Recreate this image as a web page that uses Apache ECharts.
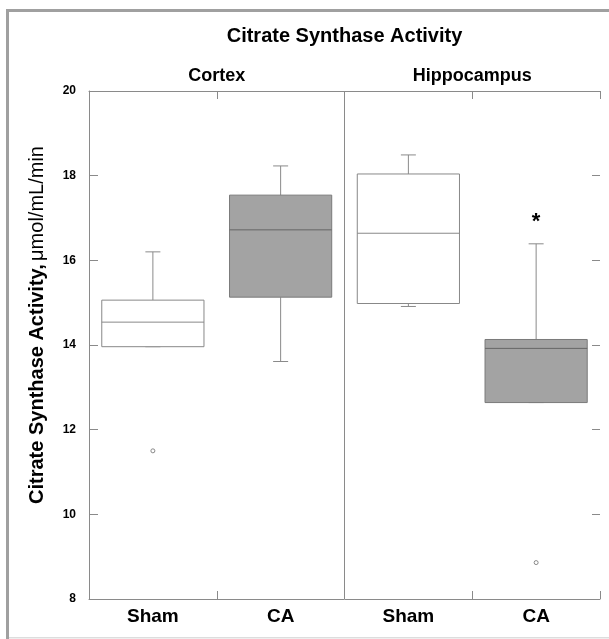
<!DOCTYPE html>
<html><head><meta charset="utf-8">
<script src="https://cdn.jsdelivr.net/npm/echarts@6/dist/echarts.min.js"></script>
<style>html,body{margin:0;padding:0;background:#fff}#c{width:609px;height:639px}</style>
</head><body><div id="c"></div>
<script>
const categories = ['Sham', 'CA', 'Sham', 'CA'];
const regions = ['Cortex', 'Hippocampus'];
const whiskerLow  = [13.96, 13.61, 14.91, 12.64];
const q1          = [13.96, 15.13, 14.98, 12.64];
const median      = [14.54, 16.72, 16.64, 13.92];
const q3          = [15.06, 17.54, 18.04, 14.13];
const whiskerHigh = [16.20, 18.23, 18.49, 16.39];
const outliers = [[0, 11.50], [3, 8.86]];
const significance = [[3, 16.9]];
const yMin = 8, yMax = 20, yStep = 2;
const chartTitle = 'Citrate Synthase Activity';
const yNameBold = 'Citrate Synthase Activity,';
const yNameUnit = 'μmol/mL/min';

const W = 609, H = 639;
const GRID = {left: 89, right: 9, top: 91, bottom: 40};
const FONT = '"Liberation Sans", Arial, Helvetica, sans-serif';
const AX = '#8a8a8a';

const chart = echarts.init(document.getElementById('c'));
const boxData = categories.map((c, i) => [i, whiskerLow[i], q1[i], median[i], q3[i], whiskerHigh[i]]);

function renderBox(params, api) {
  const i = api.value(0);
  const pLo = api.coord([i, api.value(1)]);
  const pQ1 = api.coord([i, api.value(2)]);
  const pMed = api.coord([i, api.value(3)]);
  const pQ3 = api.coord([i, api.value(4)]);
  const pHi = api.coord([i, api.value(5)]);
  const band = api.size([1, 0])[0];
  const bw = band * 0.8;
  const cap = 15;
  const x = pMed[0];
  const cs = params.coordSys;
  const filled = i % 2 === 1;
  const wStyle = {stroke: AX, lineWidth: 1};
  const children = [];
  if (i === 2) {
    children.push({type: 'line', shape: {x1: x - band / 2, y1: cs.y, x2: x - band / 2, y2: cs.y + cs.height}, style: {stroke: AX, lineWidth: 1}});
  }
  children.push(
    {type: 'line', shape: {x1: x, y1: pQ1[1], x2: x, y2: pLo[1]}, style: wStyle},
    {type: 'line', shape: {x1: x - cap / 2, y1: pLo[1], x2: x + cap / 2, y2: pLo[1]}, style: wStyle},
    {type: 'line', shape: {x1: x, y1: pQ3[1], x2: x, y2: pHi[1]}, style: wStyle},
    {type: 'line', shape: {x1: x - cap / 2, y1: pHi[1], x2: x + cap / 2, y2: pHi[1]}, style: wStyle},
    {type: 'rect', shape: {x: x - bw / 2, y: pQ3[1], width: bw, height: pQ1[1] - pQ3[1]},
      style: {fill: filled ? '#a3a3a3' : '#ffffff', stroke: filled ? '#7a7a7a' : '#888888', lineWidth: 1}},
    {type: 'line', shape: {x1: x - bw / 2, y1: pMed[1], x2: x + bw / 2, y2: pMed[1]},
      style: {stroke: filled ? '#666666' : '#888888', lineWidth: 1}}
  );
  return {type: 'group', children};
}

function renderStar(params, api) {
  const p = api.coord([api.value(0), api.value(1)]);
  return {type: 'text', x: p[0], y: p[1],
    style: {text: '*', fill: '#000', font: 'bold 22px ' + FONT, textAlign: 'center', textVerticalAlign: 'middle'}};
}

const plotW = W - GRID.left - GRID.right;
const band = plotW / categories.length;

chart.setOption({
  backgroundColor: '#ffffff',
  animation: false,
  grid: {left: GRID.left, right: GRID.right, top: GRID.top, bottom: GRID.bottom, containLabel: false},
  xAxis: [
    {type: 'category', data: categories, position: 'bottom', boundaryGap: true,
     axisLine: {show: true, lineStyle: {color: AX, width: 1}},
     axisTick: {show: true, inside: true, length: 8, interval: 0, lineStyle: {color: AX}},
     axisLabel: {show: true, interval: 0, margin: 8, color: '#000', fontFamily: FONT, fontWeight: 'bold', fontSize: 19},
     splitLine: {show: false}},
    {type: 'category', data: categories, position: 'top', boundaryGap: true,
     axisLine: {show: true, lineStyle: {color: AX, width: 1}},
     axisTick: {show: true, inside: true, length: 8, interval: 0, lineStyle: {color: AX}},
     axisLabel: {show: false}, splitLine: {show: false}}
  ],
  yAxis: [
    {type: 'value', min: yMin, max: yMax, interval: yStep, position: 'left',
     axisLine: {show: true, lineStyle: {color: AX, width: 1}},
     axisTick: {show: true, inside: true, length: 9, lineStyle: {color: AX}},
     axisLabel: {margin: 13, color: '#000', fontFamily: FONT, fontWeight: 'bold', fontSize: 12},
     splitLine: {show: false}},
    {type: 'value', min: yMin, max: yMax, interval: yStep, position: 'right',
     axisLine: {show: false},
     axisTick: {show: true, inside: true, length: 8, lineStyle: {color: AX}},
     axisLabel: {show: false}, splitLine: {show: false}}
  ],
  series: [
    {type: 'custom', name: 'Citrate synthase', xAxisIndex: 0, yAxisIndex: 0,
     encode: {x: 0, y: [1, 2, 3, 4, 5]}, data: boxData, renderItem: renderBox, silent: true, z: 2},
    {type: 'scatter', name: 'Outliers', xAxisIndex: 0, yAxisIndex: 0, data: outliers,
     symbol: 'circle', symbolSize: 4, itemStyle: {color: '#ffffff', borderColor: '#888888', borderWidth: 1, opacity: 1}, z: 3},
    {type: 'custom', name: 'Significance', xAxisIndex: 0, yAxisIndex: 0,
     encode: {x: 0, y: 1}, data: significance, renderItem: renderStar, silent: true, z: 3}
  ],
  graphic: [
    {type: 'rect', shape: {x: 6, y: 9, width: 3, height: H - 9}, style: {fill: '#a0a0a0'}, silent: true},
    {type: 'rect', shape: {x: 6, y: 9, width: W - 6, height: 3}, style: {fill: '#a0a0a0'}, silent: true},
    {type: 'rect', shape: {x: 9, y: 637, width: W - 9, height: 1.5}, style: {fill: '#dddddd'}, silent: true},
    {type: 'text', x: GRID.left + plotW / 2, y: 36,
     style: {text: chartTitle, fill: '#000', font: 'bold 20px ' + FONT, textAlign: 'center', textVerticalAlign: 'middle'}},
    {type: 'text', x: GRID.left + band, y: 76.5,
     style: {text: regions[0], fill: '#000', font: 'bold 18px ' + FONT, textAlign: 'center', textVerticalAlign: 'middle'}},
    {type: 'text', x: GRID.left + band * 3, y: 76.5,
     style: {text: regions[1], fill: '#000', font: 'bold 18px ' + FONT, textAlign: 'center', textVerticalAlign: 'middle'}},
    {type: 'text', x: 37, y: 325, rotation: Math.PI / 2,
     style: {text: '{b|' + yNameBold + '} {n|' + yNameUnit + '}', fill: '#000', textAlign: 'center', textVerticalAlign: 'middle',
       rich: {b: {fontFamily: FONT, fontWeight: 'bold', fontSize: 20, fill: '#000'},
              n: {fontFamily: FONT, fontWeight: 'normal', fontSize: 20, fill: '#000'}}}}
  ]
});
</script>
</body></html>
